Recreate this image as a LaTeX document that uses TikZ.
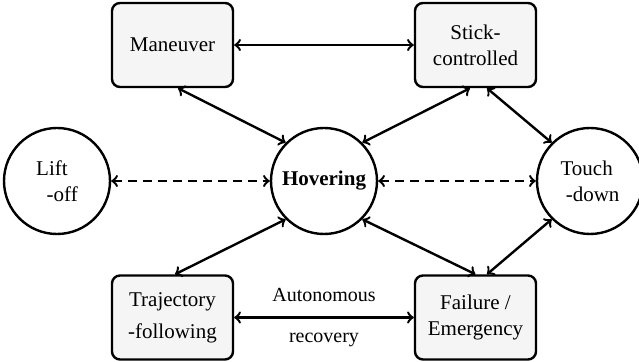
\documentclass[tikz,border=0pt]{standalone}
\usepackage{fontspec}
\setmainfont{Liberation Serif}
\usetikzlibrary{positioning}

\begin{document}
\begin{tikzpicture}[x=0.5pt, y=-0.5pt, every edge/.style={draw=black,line width=1.2pt},
    modebox/.style={draw, line width=1.2pt, rounded corners=4pt, fill=black!4, minimum width=60.5pt, minimum height=42pt, align=center, font=\fontsize{10.5}{13}\selectfont},
    phase/.style={circle, draw, line width=1.2pt, minimum size=53pt, inner sep=0pt, font=\fontsize{10.5}{13}\selectfont},
    trans/.style={<->, line width=1.2pt, >={to[scale=1.15]}}]
    \useasboundingbox (0,0) rectangle (639,362);
    % nodes
    \node[modebox] (man) at (172.5,45) {Maneuver};
    \node[modebox] (stk) at (475.5,45) {Stick-\\controlled};
    \node[modebox] (trj) at (172.5,317.5) {Trajectory\\[3pt]-following};
    \node[modebox] (fail) at (475.5,317.5) {Failure /\\Emergency};
    \node[phase, align=left] (lift) at (57,181) {Lift\\\ \ -off};
    \node[phase, font=\fontsize{10.5}{13}\selectfont\bfseries] (hov) at (324,181) {Hovering};
    \node[phase, align=left] (tch) at (590,181) {Touch\\\ -down};
    % transitions
    \draw[trans] (man) -- (stk);
    \draw[trans] (trj) -- node[above=4pt]{Autonomous} node[below=4pt]{recovery} (fail);
    \draw[trans] ([xshift=2.75pt]man.south) -- (hov.135);
    \draw[trans] ([xshift=-2.75pt]stk.south) -- (hov.45);
    \draw[trans] ([xshift=5.75pt]stk.south) -- (tch.135);
    \draw[trans] ([xshift=1.25pt]trj.north) -- (hov.225);
    \draw[trans] (fail.north) -- (hov.315);
    \draw[trans] ([xshift=5.75pt]fail.north) -- (tch.225);
    \draw[trans,dash pattern=on 4.5pt off 3pt] (lift) -- (hov);
    \draw[trans,dash pattern=on 4.5pt off 3pt] (hov) -- (tch);
\end{tikzpicture}
\end{document}
